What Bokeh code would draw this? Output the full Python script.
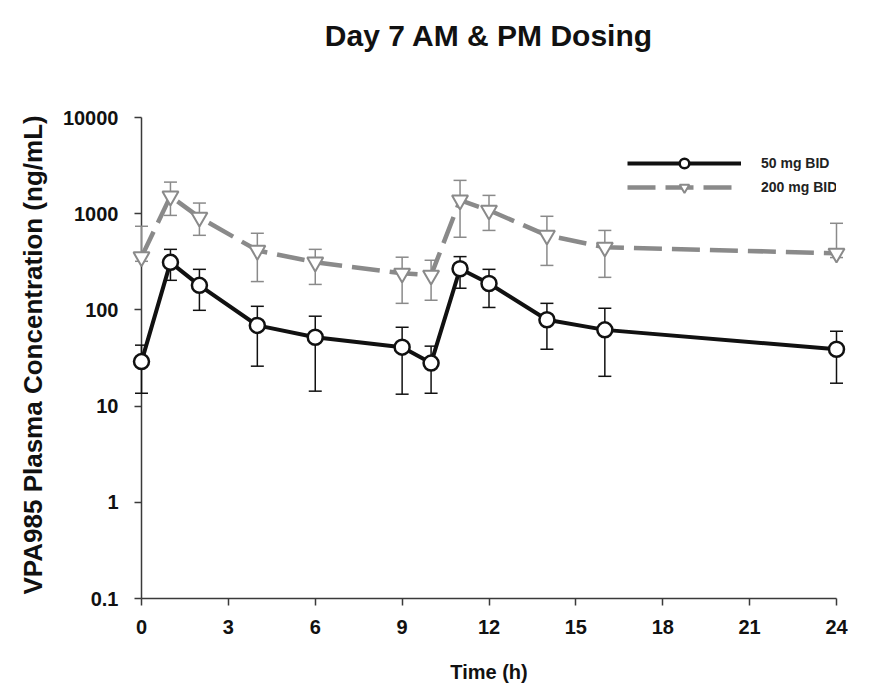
from bokeh.plotting import figure
from bokeh.models import FixedTicker, Legend, LegendItem, Label, Title
from bokeh.embed import file_html
from bokeh.resources import INLINE

# ---- data ----
times = [0, 1, 2, 4, 6, 9, 10, 11, 12, 14, 16, 24]

mg50 = [29, 312, 180, 69, 52, 41, 28, 268, 188, 79, 62, 39]
mg50_upper = [43, 426, 264, 109, 86, 66, 42, 358, 264, 117, 104, 60]
mg50_lower = [13.6, 203, 99, 26, 14.3, 13.3, 13.6, 168, 106, 39, 20.4, 17.3]

mg200 = [355, 1520, 916, 415, 313, 240, 229, 1380, 1085, 596, 448, 388]
mg200_upper = [740, 2130, 1290, 626, 426, 353, 328, 2220, 1550, 940, 670, 795]
mg200_lower = [320, 960, 596, 197, 184, 117, 126, 569, 670, 290, 218, 350]

x_ticks = [0, 3, 6, 9, 12, 15, 18, 21, 24]
y_ticks = [0.1, 1, 10, 100, 1000, 10000]
y_tick_labels = ["0.1", "1", "10", "100", "1000", "10000"]

series_names = ["50 mg BID", "200 mg BID"]
title_text = "Day 7 AM & PM Dosing"
x_label = "Time (h)"
y_label = "VPA985 Plasma Concentration (ng/mL)"

FONT = "Liberation Sans"
BLACK = "#111111"
GRAY = "#8a8a8a"
AXIS = "#3a3a3a"

# ---- layout geometry (pixels) ----
X0, X1 = 0, 24            # axis extent (data)
Y0, Y1 = 0.1, 10000       # axis extent (data)
AX_W, AX_H = 695, 481     # pixel length of the drawn axes
EXTRA_TOP = 107           # empty frame room above the y axis end (title lives here)

px_per_dec = AX_H / 5.0
y_end = 10 ** (4 + EXTRA_TOP / px_per_dec)

p = figure(
    frame_width=AX_W, frame_height=AX_H + EXTRA_TOP,
    x_range=(X0, X1), y_range=(Y0, y_end), y_axis_type="log",
    output_backend="svg", toolbar_location=None,
    min_border_left=141, min_border_right=41,
    min_border_top=10, min_border_bottom=90,
)
p.outline_line_color = None
p.xgrid.visible = False
p.ygrid.visible = False
p.background_fill_color = "white"
p.border_fill_color = "white"

# chart title (screen units relative to the plot frame: x from left, y from bottom)
title = Label(
    x=AX_W / 2, y=AX_H + 82, x_units="screen", y_units="screen",
    text=title_text, text_align="center", text_baseline="alphabetic",
    text_font=FONT, text_font_size="30px", text_font_style="bold",
    text_color="#111111",
)
p.add_layout(title)

# axes
for ax in (p.xaxis[0], p.yaxis[0]):
    ax.axis_line_color = AXIS
    ax.axis_line_width = 1.5
    ax.major_tick_line_color = AXIS
    ax.major_tick_line_width = 1.5
    ax.major_tick_out = 7
    ax.major_tick_in = 0
    ax.minor_tick_out = 0
    ax.minor_tick_in = 0
    ax.major_label_text_font = FONT
    ax.major_label_text_font_style = "bold"
    ax.major_label_text_font_size = "20px"
    ax.major_label_text_color = "#111111"
    ax.axis_label_text_font = FONT
    ax.axis_label_text_font_style = "bold"
    ax.axis_label_text_color = "#111111"

p.xaxis.bounds = (X0, X1)
p.xaxis.ticker = FixedTicker(ticks=x_ticks)
p.xaxis.axis_label = x_label
p.xaxis.axis_label_text_font_size = "20px"
p.xaxis.major_label_standoff = 14
p.xaxis.axis_label_standoff = 24

p.yaxis.bounds = (Y0, Y1)
p.yaxis.ticker = FixedTicker(ticks=y_ticks)
p.yaxis.major_label_overrides = {t: lab for t, lab in zip(y_ticks, y_tick_labels)}
p.yaxis.major_label_standoff = 16

# y axis title, placed beside the drawn axis (not the whole frame)
ytitle = Title(
    text=y_label, align="left", offset=4, vertical_align="middle",
    standoff=22, text_font=FONT, text_font_size="26px",
    text_font_style="bold", text_color="#111111",
)
p.add_layout(ytitle, "left")

# ---- 200 mg series ----
eb200 = p.segment(x0=times, y0=mg200_lower, x1=times, y1=mg200_upper,
                  line_color=GRAY, line_width=1.5, level="overlay")
cap200u = p.scatter(x=times, y=mg200_upper, marker="dash", size=13,
                    line_color=GRAY, line_width=1.5, level="overlay")
cap200l = p.scatter(x=times, y=mg200_lower, marker="dash", size=13,
                    line_color=GRAY, line_width=1.5, level="overlay")
line200 = p.line(x=times, y=mg200, line_color=GRAY, line_width=4.5,
                 line_dash="28 10", level="overlay")
mark200 = p.scatter(x=times, y=mg200, marker="inverted_triangle", size=16,
                    fill_color="white", line_color=GRAY, line_width=2,
                    level="overlay")

# ---- 50 mg series ----
eb50 = p.segment(x0=times, y0=mg50_lower, x1=times, y1=mg50_upper,
                 line_color=BLACK, line_width=1.5, level="overlay")
cap50u = p.scatter(x=times, y=mg50_upper, marker="dash", size=13,
                   line_color=BLACK, line_width=1.5, level="overlay")
cap50l = p.scatter(x=times, y=mg50_lower, marker="dash", size=13,
                   line_color=BLACK, line_width=1.5, level="overlay")
line50 = p.line(x=times, y=mg50, line_color=BLACK, line_width=4,
                level="overlay")
mark50 = p.scatter(x=times, y=mg50, marker="circle", size=15,
                   fill_color="white", line_color=BLACK, line_width=2.5,
                   level="overlay")

legend = Legend(
    items=[LegendItem(label=series_names[0], renderers=[line50, mark50]),
           LegendItem(label=series_names[1], renderers=[line200, mark200])],
    location=(486, 399),
    orientation="vertical",
    glyph_width=114, glyph_height=24, label_height=22,
    label_standoff=20, spacing=0, padding=0, margin=0,
    label_text_font=FONT, label_text_font_size="14px",
    label_text_font_style="bold", label_text_color="#222222",
    border_line_alpha=0, background_fill_alpha=0,
)
p.add_layout(legend, "center")

open("out.html", "w").write(file_html(p, INLINE))
